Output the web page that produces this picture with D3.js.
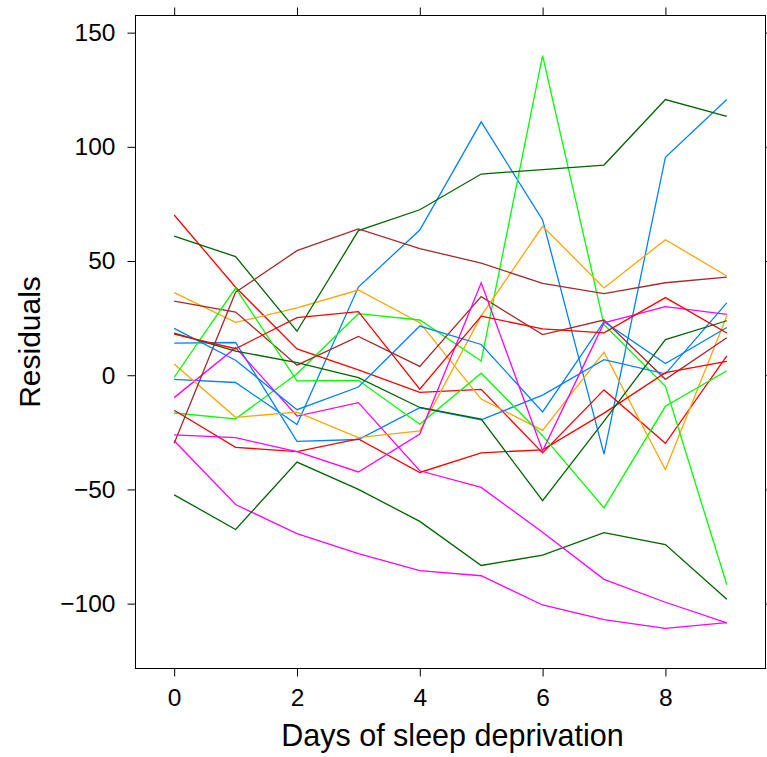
<!DOCTYPE html>
<html>
<head>
<meta charset="utf-8">
<script src="https://cdn.jsdelivr.net/npm/d3@7"></script>
<style>
  html, body { margin: 0; padding: 0; background: #fff; }
  svg { display: block; }
  text { font-family: "Liberation Sans", Arial, Helvetica, sans-serif; fill: #000; }
</style>
</head>
<body>
<script>
// ---- data: residuals of lm(Reaction ~ Days) for sleepstudy subjects ----
const days = [0, 1, 2, 3, 4, 5, 6, 7, 8, 9];
const subjects = ["308","309","310","330","331","332","333","334","335","337","349","350","351","352","369","370","371","372"];
const r308 = [-1.85, -3.17, -21.54, 38.63, 63.57, 110.95, 67.99, -34.53, 95.45, 120.74];
const r309 = [-28.67, -56.60, -69.36, -78.10, -85.56, -87.78, -100.58, -106.95, -110.84, -108.30];
const r310 = [-52.35, -67.54, -38.02, -49.97, -63.97, -83.28, -78.79, -68.93, -74.13, -98.09];
const r330 = [70.14, 38.53, 11.52, 2.32, -7.48, -6.16, -33.97, -6.42, -29.79, 8.44];
const r331 = [36.20, 23.13, 29.48, 37.30, 23.00, -10.42, -24.14, 10.14, -41.39, 25.97];
const r332 = [-16.54, -19.06, 0.62, 26.96, 24.19, 6.26, 139.95, 22.15, -4.84, -91.75];
const r333 = [32.44, 27.68, 4.43, 17.00, 3.90, 34.43, 17.82, 24.16, -1.78, 16.43];
const r334 = [14.07, 14.33, -28.98, -28.14, -14.25, -19.55, -8.69, 6.85, 0.61, 31.69];
const r335 = [-9.80, 12.08, -17.85, -12.01, -41.82, -49.10, -68.76, -89.37, -99.39, -108.37];
const r337 = [60.96, 51.94, 19.27, 63.31, 72.45, 88.10, 90.05, 92.02, 120.72, 113.31];
const r349 = [-15.30, -31.55, -33.42, -27.89, -42.57, -33.97, -32.65, -16.58, 1.14, 6.03];
const r350 = [4.89, -18.41, -16.14, -27.28, -24.36, 25.98, 65.23, 38.24, 59.35, 43.44];
const r351 = [-0.88, 38.19, -2.45, -2.22, -21.45, 0.89, -26.47, -58.08, -13.60, 1.96];
const r352 = [-29.73, 36.33, 54.54, 64.04, 55.46, 49.09, 40.22, 35.75, 40.50, 42.93];
const r369 = [20.52, 6.57, -15.10, -5.15, 21.54, 13.47, -16.08, 23.44, 5.14, 20.90];
const r370 = [-26.14, -27.34, -33.44, -42.34, -25.74, 40.45, -33.06, 22.91, 30.02, 26.62];
const r371 = [18.48, 10.58, 5.56, -1.02, -14.11, -19.23, -54.94, -20.05, 15.64, 23.86];
const r372 = [18.01, 11.61, 25.26, 27.82, -6.11, 25.87, 20.27, 18.54, 34.00, 18.51];
const residuals = [r308, r309, r310, r330, r331, r332, r333, r334, r335, r337, r349, r350, r351, r352, r369, r370, r371, r372];
const xTicks = [0, 2, 4, 6, 8];
const yTicks = [-100, -50, 0, 50, 100, 150];
const palette = ["#0080ff", "#ff00ff", "#006400", "#ff0000", "#ffa500", "#00ff00", "#a52a2a"];
const xLabel = "Days of sleep deprivation";
const yLabel = "Residuals";

// ---- layout ----
const W = 767, H = 757;
const L = 135.5, R = 765.5, T = 15.5, B = 668.5;

const svg = d3.select("body").append("svg").attr("width", W).attr("height", H);

const xExt = d3.extent(days), xPad = (xExt[1] - xExt[0]) * 0.07;
const allY = residuals.flat();
const yExt = d3.extent(allY), yPad = (yExt[1] - yExt[0]) * 0.07;

const x = d3.scaleLinear().domain([xExt[0] - xPad, xExt[1] + xPad]).range([L, R]);
const y = d3.scaleLinear().domain([yExt[0] - yPad, yExt[1] + yPad]).range([B, T]);

// lines
const line = d3.line().x((d, i) => x(days[i])).y(d => y(d));
svg.append("g").selectAll("path")
  .data(residuals)
  .join("path")
  .attr("d", d => line(d))
  .attr("fill", "none")
  .attr("stroke", (d, i) => palette[i % palette.length])
  .attr("stroke-width", 1.3)
  .attr("stroke-linejoin", "miter");

// axes
const tickLen = 8;
const fs = 24.5;
function styleAxis(g, showLabels) {
  g.select(".domain").remove();
  g.selectAll(".tick line").attr("stroke", "#000").attr("stroke-width", 1);
  if (!showLabels) g.selectAll(".tick text").remove();
  else g.selectAll(".tick text").attr("font-size", fs).attr("font-family", "Liberation Sans, Arial, sans-serif").attr("fill", "#000");
}
svg.append("g").attr("transform", `translate(0,${B})`)
  .call(d3.axisBottom(x).tickValues(xTicks).tickSizeOuter(0).tickSizeInner(tickLen).tickPadding(12).tickFormat(d3.format("d")))
  .call(g => styleAxis(g, true));
svg.append("g").attr("transform", `translate(0,${T})`)
  .call(d3.axisTop(x).tickValues(xTicks).tickSizeOuter(0).tickSizeInner(tickLen))
  .call(g => styleAxis(g, false));
svg.append("g").attr("transform", `translate(${L},0)`)
  .call(d3.axisLeft(y).tickValues(yTicks).tickSizeOuter(0).tickSizeInner(tickLen).tickPadding(12)
    .tickFormat(d => d < 0 ? "\u2212" + Math.abs(d) : String(d)))
  .call(g => styleAxis(g, true));
svg.append("g").attr("transform", `translate(${R},0)`)
  .call(d3.axisRight(y).tickValues(yTicks).tickSizeOuter(0).tickSizeInner(tickLen))
  .call(g => styleAxis(g, false));

// box
svg.append("rect").attr("x", L).attr("y", T).attr("width", R - L).attr("height", B - T)
  .attr("fill", "none").attr("stroke", "#000").attr("stroke-width", 1);

// axis titles
svg.append("text").attr("x", (L + R) / 2 + 2).attr("y", 746)
  .attr("text-anchor", "middle").attr("font-size", 30.5).text(xLabel);
svg.append("text").attr("transform", `translate(40,${(T + B) / 2}) rotate(-90)`)
  .attr("text-anchor", "middle").attr("font-size", 30).text(yLabel);
</script>
</body>
</html>
